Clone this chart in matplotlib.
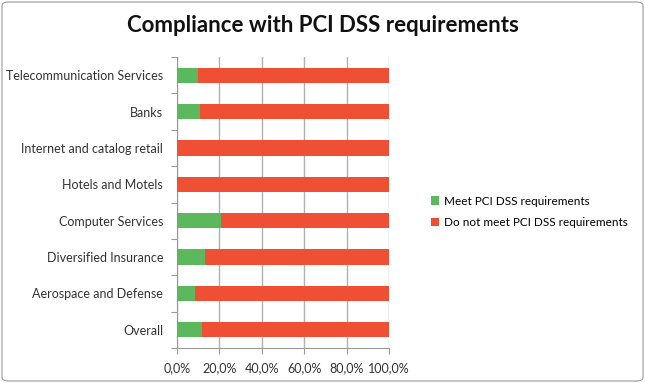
import numpy as np
import matplotlib.pyplot as plt
from matplotlib.patches import FancyBboxPatch

categories = ['Telecommunication Services', 'Banks', 'Internet and catalog retail',
              'Hotels and Motels', 'Computer Services', 'Diversified Insurance',
              'Aerospace and Defense', 'Overall']
meet = [9.7, 10.8, 0.0, 0.0, 20.9, 13.4, 8.3, 11.8]
not_meet = [100 - v for v in meet]
xticks = [0, 20, 40, 60, 80, 100]
xticklabels = ['0,0%', '20,0%', '40,0%', '60,0%', '80,0%', '100,0%']

plt.rcParams['font.family'] = ['Lato', 'DejaVu Sans']

fig = plt.figure(figsize=(6.45, 3.83), dpi=100)
ax = fig.add_axes([177 / 645, 1 - 348 / 383, 212 / 645, 291 / 383])

y = np.arange(len(categories))
green = '#5cb85c'
red = '#ef5033'
ax.barh(y, meet, height=0.42, color=green, label='Meet PCI DSS requirements', zorder=3)
ax.barh(y, not_meet, left=meet, height=0.42, color=red,
        label='Do not meet PCI DSS requirements', zorder=3)

ax.set_ylim(len(categories) - 0.5, -0.5)
ax.set_xlim(0, 100)
ax.set_yticks(np.arange(len(categories) + 1) - 0.5)
ax.set_yticklabels([])
ax.set_yticks(y, minor=True)
ax.set_yticklabels(categories, minor=True, fontsize=9, color='#333333')
ax.tick_params(axis='y', which='minor', length=0, pad=10)
ax.tick_params(axis='y', which='major', length=4, color='#999999')
ax.set_xticks(xticks)
ax.set_xticklabels(xticklabels, fontsize=9, color='#333333')
ax.tick_params(axis='x', length=4, color='#999999', pad=6)
ax.grid(axis='x', color='#b0b0b0', linewidth=1, zorder=0)
for s in ['top', 'right']:
    ax.spines[s].set_visible(False)
for s in ['left', 'bottom']:
    ax.spines[s].set_color('#999999')

fig.text(0.5, 1 - 25 / 383, 'Compliance with PCI DSS requirements', ha='center', va='center',
         fontsize=16, fontweight='bold', color='#111111')

handles, labels = ax.get_legend_handles_labels()
fig.legend(handles, labels, loc='center left', bbox_to_anchor=(420 / 645, 1 - 212 / 383),
           frameon=False, fontsize=8.5, handlelength=0.7, handleheight=0.7,
           handletextpad=0.4, labelspacing=0.9)

frame = FancyBboxPatch((2 / 645, 2 / 383), 1 - 4 / 645, 1 - 4 / 383,
                       boxstyle='round,pad=0,rounding_size=0.01',
                       transform=fig.transFigure, fill=False, edgecolor='#999999', linewidth=0.8)
fig.patches.append(frame)

fig.savefig('out.png', dpi=100)
